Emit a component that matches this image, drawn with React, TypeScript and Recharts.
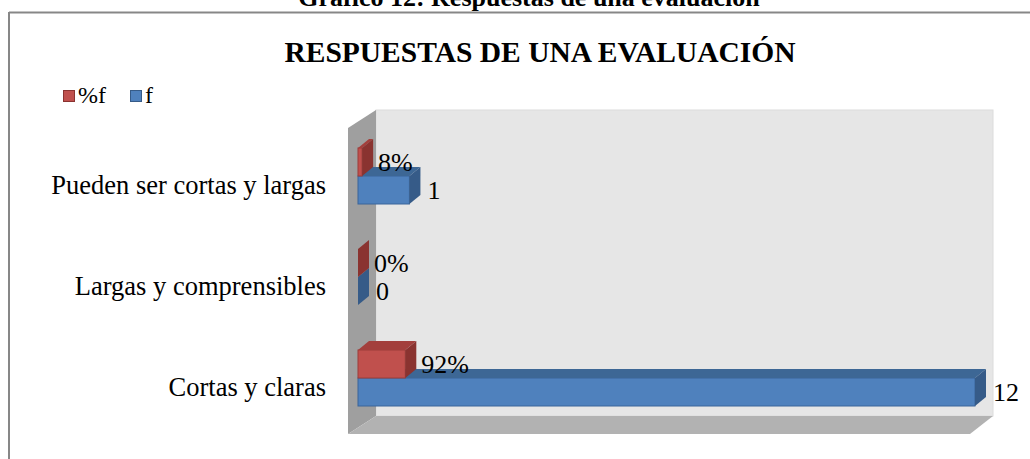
import React from 'react';
import { BarChart, Bar, XAxis, YAxis, Legend, LabelList } from 'recharts';

const categories = ['Pueden ser cortas y largas', 'Largas y comprensibles', 'Cortas y claras'];
const fValues = [1, 0, 12];
const pctValues = [0.08, 0, 0.92];
const xDomain = [0, 12];

const data = categories.map((name, i) => ({ name, f: fValues[i], pct: pctValues[i] }));

const FONT = '"Liberation Serif", "Times New Roman", serif';

// 3d depth of each bar
const DX = 11;
const DY = 9;

const colors: Record<string, { front: string; top: string; side: string; edge: string }> = {
  f: { front: '#4f81bd', top: '#3d6795', side: '#365b88', edge: '#3a659a' },
  pct: { front: '#c0504d', top: '#a33f3c', side: '#8a3330', edge: '#9b3d3a' },
};

const makeShape = (key: string) => (props: any) => {
  const { x, y, width, height } = props;
  const c = colors[key];
  const w = Math.max(0, width || 0);
  return (
    <g>
      {w > 0 && <rect x={x} y={y} width={w} height={height} fill={c.front} stroke={c.edge} strokeWidth={1} />}
      <polygon
        points={`${x},${y} ${x + DX},${y - DY} ${x + w + DX},${y - DY} ${x + w},${y}`}
        fill={c.top}
      />
      <polygon
        points={`${x + w},${y} ${x + w + DX},${y - DY} ${x + w + DX},${y + height - DY} ${x + w},${y + height}`}
        fill={c.side}
      />
    </g>
  );
};

const makeLabel = (fmt: (v: number) => string, gap: number) => (props: any) => {
  const { x, y, width, height, value } = props;
  return (
    <text
      x={x + Math.max(0, width) + DX + gap}
      y={y + height / 2}
      dominantBaseline="central"
      fontFamily={FONT}
      fontSize={26}
      fill="#000"
    >
      {fmt(value)}
    </text>
  );
};

const CategoryTick = ({ x, y, payload }: any) => (
  <text x={x} y={y + 9} textAnchor="end" dominantBaseline="central" fontFamily={FONT} fontSize={26.5} fill="#000">
    {payload.value}
  </text>
);

const LegendContent = ({ payload }: any) => {
  const items = [...(payload || [])].sort((a: any, b: any) => (a.dataKey === 'pct' ? -1 : b.dataKey === 'pct' ? 1 : 0));
  return (
    <div style={{ display: 'flex', alignItems: 'center', fontFamily: FONT, fontSize: 24, whiteSpace: 'nowrap' }}>
      {items.map((entry: any) => {
        const c = colors[entry.dataKey] || colors.f;
        return (
          <div key={entry.value} style={{ display: 'flex', alignItems: 'center', marginRight: 24 }}>
            <span
              style={{
                display: 'inline-block',
                width: 10,
                height: 10,
                background: c.front,
                border: `1px solid ${c.side}`,
                marginRight: 3,
              }}
            />
            <span>{entry.value}</span>
          </div>
        );
      })}
    </div>
  );
};

const App = () => {
  return (
    <div style={{ position: 'absolute', left: 0, top: 0, width: 1030, height: 459, background: '#fff', overflow: 'hidden' }}>
      <svg width={1030} height={459} style={{ position: 'absolute', left: 0, top: 0 }}>
        <text x={529} y={6} textAnchor="middle" fontFamily={FONT} fontWeight="bold" fontSize={26}>
          Gráfico  12: Respuestas de una evaluación
        </text>
        <line x1={9} y1={12.5} x2={1030} y2={12.5} stroke="#878787" strokeWidth={2} />
        <line x1={9} y1={12} x2={9} y2={459} stroke="#878787" strokeWidth={2} />
        <text x={540} y={62} textAnchor="middle" fontFamily={FONT} fontWeight="bold" fontSize={29.5}>
          RESPUESTAS DE UNA EVALUACIÓN
        </text>
        {/* back wall, side wall, floor */}
        <rect x={376} y={110} width={617} height={306} fill="#e6e6e6" stroke="#dcdcdc" />
        <polygon points="348,128 376,110 376,416 348,434" fill="#9f9f9f" />
        <polygon points="348,434 376,416 993,416 970,434" fill="#b2b2b2" />
      </svg>
      <div style={{ position: 'absolute', left: 0, top: 0 }}>
        <BarChart
          layout="vertical"
          width={1030}
          height={459}
          data={data}
          margin={{ top: 125, right: 55, bottom: 31, left: 58 }}
          barSize={28}
          barGap={-56}
          barCategoryGap={0}
        >
          <XAxis type="number" domain={xDomain} hide />
          <YAxis
            type="category"
            dataKey="name"
            width={300}
            axisLine={false}
            tickLine={false}
            tickSize={0}
            tickMargin={32}
            interval={0}
            tick={<CategoryTick />}
          />
          <Legend
            layout="horizontal"
            verticalAlign="middle"
            align="center"
            content={<LegendContent />}
            wrapperStyle={{ left: 63, top: 82, width: 'auto' }}
          />
          <Bar dataKey="f" name="f" fill="#4f81bd" shape={makeShape('f')} isAnimationActive={false}>
            <LabelList dataKey="f" content={makeLabel((v) => String(v), 7)} />
          </Bar>
          <Bar dataKey="pct" name="%f" fill="#c0504d" shape={makeShape('pct')} isAnimationActive={false}>
            <LabelList dataKey="pct" content={makeLabel((v) => `${Math.round(v * 100)}%`, 5)} />
          </Bar>
        </BarChart>
      </div>
    </div>
  );
};

export default App;
